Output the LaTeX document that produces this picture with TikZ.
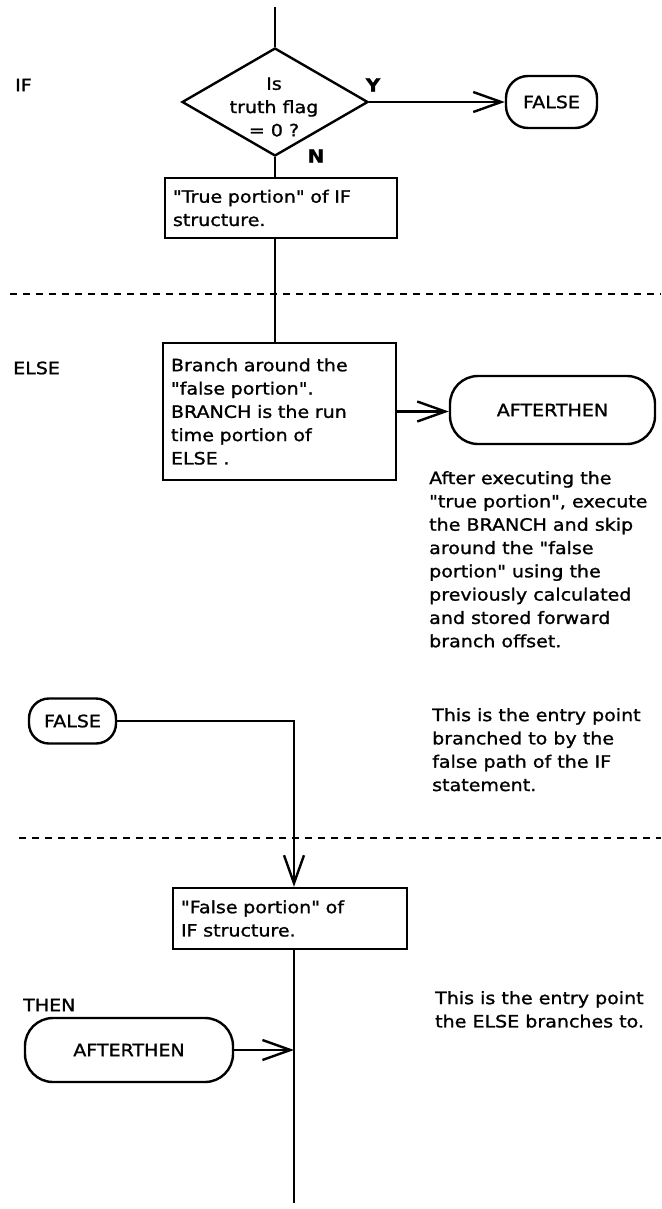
\documentclass[tikz,border=0pt]{standalone}
\usepackage{fontspec}
\setmainfont{DejaVu Sans}[FakeStretch=1.12,FakeBold=1.2,Ligatures=TeXOff]
\usetikzlibrary{shapes.geometric,arrows.meta}
\begin{document}
\begin{tikzpicture}[x=1pt,y=-1pt,
  every node/.style={font=\fontsize{17}{23.3}\selectfont},
  ln/.style={line width=2.4pt},
  arr/.style={ln,-{Straight Barb[length=28pt,width=20pt]}},
  dsh/.style={line width=2pt,dash pattern=on 7pt off 6pt},
  procbox/.style={draw,line width=2.4pt,rectangle,align=left,inner xsep=8pt,inner ysep=0pt},
  pill/.style={draw,line width=2.4pt,rectangle,inner sep=0pt},
  lbl/.style={anchor=west,inner sep=0pt},
  note/.style={anchor=north west,align=left,inner sep=0pt},
  yn/.style={inner sep=0pt,font=\fontsize{18}{20}\selectfont\bfseries}
]
\useasboundingbox (0,0) rectangle (661,1209);

% labels on the left
\node[lbl] (iflbl) at (15,85) {IF};
\node[lbl] (elselbl) at (13,368) {ELSE};
\node[lbl] (thenlbl) at (23,1005) {THEN};

% IF part
\coordinate (top) at (275,7);
\node[draw,diamond,ln,minimum width=186pt,minimum height=108pt,inner sep=0pt] (dia) at (275,102) {};
\node[align=center,inner sep=0pt] (diat) at (274,107) {Is\\truth flag\\= 0 ?};
\node[yn] (ylab) at (373,85) {Y};
\node[yn] (nlab) at (316,156) {N};
\node[pill,rounded corners=22pt,minimum width=91pt,minimum height=52pt] (false1) at (551.5,102) {FALSE};
\draw[ln] (top) -- (dia.north);
\draw[arr] (dia.east) -- (false1.west);

\node[procbox,text width=216pt,minimum height=60pt] (tbox) at (281,208) {"True portion" of IF\\structure.};
\draw[ln] (dia.south) -- (dia.south |- tbox.north);

% first separator
\coordinate (d1a) at (10,294);
\coordinate (d1b) at (661,294);
\draw[dsh] (d1a) -- (d1b);

% ELSE part
\node[procbox,text width=217pt,minimum height=137pt] (ebox) at (279.5,411.5) {Branch around the\\"false portion".\\BRANCH is the run\\time portion of\\ELSE .};
\draw[ln] (dia.south |- tbox.south) -- (dia.south |- ebox.north);
\node[pill,rounded corners=28pt,minimum width=205pt,minimum height=68pt] (aft1) at (552.5,410) {AFTERTHEN};
\draw[arr] (ebox.east) -- (ebox.east -| aft1.west);

\node[note] (note1) at (429,471) {After executing the\\"true portion", execute\\the BRANCH and skip\\around the "false\\portion" using the\\previously calculated\\and stored forward\\branch offset.};

% FALSE entry
\node[pill,rounded corners=20pt,minimum width=87pt,minimum height=45pt] (false2) at (72.5,721) {FALSE};
\coordinate (c1) at (294,720);
\node[note] (note2) at (432,708) {This is the entry point\\branched to by the\\false path of the IF\\statement.};

% second separator
\coordinate (d2a) at (19,838);
\coordinate (d2b) at (661,838);
\draw[dsh] (d2a) -- (d2b);

\node[procbox,text width=218pt,minimum height=61pt] (fbox) at (290,918.5) {"False portion" of\\IF structure.};
\draw[arr] (false2.east) -| (c1 |- fbox.north);

% THEN part
\coordinate (bot) at (294,1203);
\draw[ln] (c1 |- fbox.south) -- (bot);
\node[pill,rounded corners=28pt,minimum width=208pt,minimum height=64pt] (aft2) at (129,1050) {AFTERTHEN\hspace{40pt}};
\draw[arr] (aft2.east) -- (aft2.east -| c1);

\node[note] (note3) at (435,991) {This is the entry point\\the ELSE branches to.};
\end{tikzpicture}
\end{document}
